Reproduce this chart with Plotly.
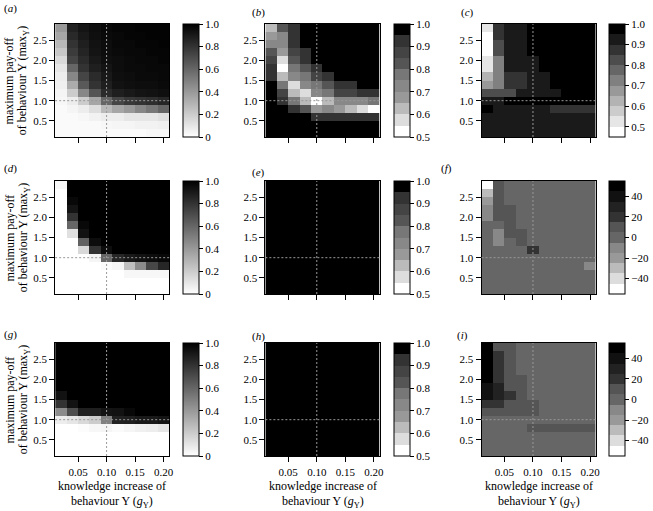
import plotly.graph_objects as go

# ---------------- data ----------------
g_values = [0.02, 0.04, 0.06, 0.08, 0.10, 0.12, 0.14, 0.16, 0.18, 0.20]
max_values = [2.8, 2.6, 2.4, 2.2, 2.0, 1.8, 1.6, 1.4, 1.2, 1.0, 0.8, 0.6, 0.4, 0.2]
x_ticks = [0.05, 0.10, 0.15, 0.20]
x_tick_text = ["0.05", "0.10", "0.15", "0.20"]
y_ticks = [0.5, 1.0, 1.5, 2.0, 2.5]
y_tick_text = ["0.5", "1.0", "1.5", "2.0", "2.5"]
ref_g = 0.10
ref_max = 1.0

# each list = one column (g value), values from max=2.8 (top) to 0.2 (bottom)
a_cols = [
    [0.40, 0.35, 0.28, 0.22, 0.15, 0.10, 0.07, 0.06, 0.04, 0.03, 0.02, 0.02, 0.02, 0.02],
    [0.87, 0.84, 0.80, 0.77, 0.73, 0.60, 0.47, 0.33, 0.20, 0.07, 0.04, 0.02, 0.02, 0.02],
    [0.92, 0.90, 0.88, 0.86, 0.83, 0.80, 0.73, 0.65, 0.47, 0.20, 0.07, 0.03, 0.02, 0.02],
    [0.95, 0.94, 0.93, 0.92, 0.90, 0.88, 0.83, 0.80, 0.67, 0.35, 0.13, 0.05, 0.02, 0.02],
    [0.97, 0.96, 0.95, 0.95, 0.94, 0.92, 0.90, 0.88, 0.83, 0.60, 0.27, 0.07, 0.03, 0.02],
    [0.98, 0.97, 0.97, 0.96, 0.95, 0.95, 0.94, 0.93, 0.88, 0.73, 0.35, 0.07, 0.04, 0.02],
    [0.98, 0.98, 0.97, 0.97, 0.96, 0.96, 0.95, 0.94, 0.90, 0.78, 0.40, 0.10, 0.04, 0.02],
    [0.99, 0.98, 0.98, 0.97, 0.97, 0.96, 0.96, 0.95, 0.92, 0.80, 0.47, 0.10, 0.05, 0.02],
    [0.99, 0.99, 0.98, 0.98, 0.97, 0.97, 0.96, 0.95, 0.93, 0.82, 0.53, 0.10, 0.05, 0.03],
    [0.99, 0.99, 0.99, 0.98, 0.98, 0.97, 0.97, 0.96, 0.94, 0.85, 0.60, 0.12, 0.06, 0.03],
]
b_cols = [
    [0.625, 0.675, 0.725, 0.81, 0.875, 0.925, 0.925, 0.975, 0.975, 0.975, 0.975, 0.975, 0.975, 0.975],
    [0.81, 0.725, 0.70, 0.675, 0.575, 0.525, 0.625, 0.75, 0.875, 0.925, 0.975, 0.975, 0.975, 0.975],
    [0.925, 0.925, 0.925, 0.875, 0.81, 0.75, 0.70, 0.575, 0.625, 0.75, 0.925, 0.975, 0.975, 0.975],
    [0.975, 0.975, 0.975, 0.925, 0.925, 0.83, 0.75, 0.70, 0.575, 0.625, 0.83, 0.975, 0.975, 0.975],
    [0.975, 0.975, 0.975, 0.975, 0.975, 0.925, 0.875, 0.775, 0.70, 0.525, 0.675, 0.925, 0.975, 0.975],
    [0.975, 0.975, 0.975, 0.975, 0.975, 0.975, 0.925, 0.825, 0.775, 0.625, 0.725, 0.925, 0.975, 0.975],
    [0.975, 0.975, 0.975, 0.975, 0.975, 0.975, 0.975, 0.925, 0.85, 0.725, 0.675, 0.925, 0.975, 0.975],
    [0.975, 0.975, 0.975, 0.975, 0.975, 0.975, 0.975, 0.925, 0.85, 0.725, 0.625, 0.925, 0.975, 0.975],
    [0.975, 0.975, 0.975, 0.975, 0.975, 0.975, 0.975, 0.975, 0.925, 0.725, 0.575, 0.925, 0.975, 0.975],
    [0.975, 0.975, 0.975, 0.975, 0.975, 0.975, 0.975, 0.975, 0.925, 0.775, 0.525, 0.925, 0.975, 0.975],
]
c_cols = [
    [0.525, 0.475, 0.475, 0.475, 0.525, 0.525, 0.625, 0.675, 0.825, 0.91, 0.975, 0.93, 0.93, 0.93],
    [0.875, 0.875, 0.80, 0.80, 0.725, 0.725, 0.725, 0.725, 0.84, 0.91, 0.93, 0.93, 0.93, 0.93],
    [0.93, 0.93, 0.93, 0.91, 0.91, 0.91, 0.875, 0.875, 0.84, 0.975, 0.93, 0.93, 0.93, 0.93],
    [0.93, 0.93, 0.93, 0.91, 0.91, 0.91, 0.875, 0.875, 0.91, 0.975, 0.93, 0.93, 0.93, 0.93],
    [0.975, 0.975, 0.975, 0.975, 0.93, 0.93, 0.91, 0.91, 0.91, 0.975, 0.93, 0.93, 0.93, 0.93],
    [0.975, 0.975, 0.975, 0.975, 0.975, 0.975, 0.93, 0.93, 0.91, 0.975, 0.93, 0.93, 0.93, 0.93],
    [0.975, 0.975, 0.975, 0.975, 0.975, 0.975, 0.975, 0.975, 0.91, 0.975, 0.875, 0.93, 0.93, 0.93],
    [0.975, 0.975, 0.975, 0.975, 0.975, 0.975, 0.975, 0.975, 0.975, 0.975, 0.875, 0.93, 0.93, 0.93],
    [0.975, 0.975, 0.975, 0.975, 0.975, 0.975, 0.975, 0.975, 0.975, 0.975, 0.875, 0.93, 0.93, 0.93],
    [0.975, 0.975, 0.975, 0.975, 0.975, 0.975, 0.975, 0.975, 0.975, 0.975, 0.875, 0.93, 0.93, 0.93],
]
d_cols = [
    [0.03, 0, 0, 0, 0, 0, 0, 0, 0, 0, 0, 0, 0, 0],
    [1, 1, 0.97, 0.92, 0.80, 0.60, 0.12, 0, 0, 0, 0, 0, 0, 0],
    [1, 1, 1, 1, 1, 0.97, 0.93, 0.62, 0.15, 0, 0, 0, 0, 0],
    [1, 1, 1, 1, 1, 1, 1, 0.95, 0.80, 0.04, 0, 0, 0, 0],
    [1, 1, 1, 1, 1, 1, 1, 1, 0.95, 0.60, 0.02, 0, 0, 0],
    [1, 1, 1, 1, 1, 1, 1, 1, 1, 0.85, 0.04, 0, 0, 0],
    [1, 1, 1, 1, 1, 1, 1, 1, 1, 0.90, 0.25, 0.03, 0, 0],
    [1, 1, 1, 1, 1, 1, 1, 1, 1, 0.93, 0.45, 0.03, 0, 0],
    [1, 1, 1, 1, 1, 1, 1, 1, 1, 0.95, 0.72, 0.03, 0, 0],
    [1, 1, 1, 1, 1, 1, 1, 1, 1, 0.97, 0.85, 0.03, 0, 0],
]
e_cols = [[0.975] * 14 for _ in range(10)]
f_cols = [
    [-50, -30, -20, -10, -10, 0, 0, 0, 0, 0, 0, 0, 0, 0],
    [10, 10, 10, 10, 10, 0, -10, -10, 0, 0, 0, 0, 0, 0],
    [0, 0, 0, 10, 10, 10, 10, 0, 0, 0, 0, 0, 0, 0],
    [0, 0, 0, 0, 0, 0, 10, 10, 0, 0, 0, 0, 0, 0],
    [0, 0, 0, 0, 0, 0, 0, 0, 20, 0, 0, 0, 0, 0],
    [0, 0, 0, 0, 0, 0, 0, 0, 0, 0, 0, 0, 0, 0],
    [0, 0, 0, 0, 0, 0, 0, 0, 0, 0, 0, 0, 0, 0],
    [0, 0, 0, 0, 0, 0, 0, 0, 0, 0, 0, 0, 0, 0],
    [0, 0, 0, 0, 0, 0, 0, 0, 0, 0, 0, 0, 0, 0],
    [0, 0, 0, 0, 0, 0, 0, 0, 0, 0, -10, 0, 0, 0],
]
g_cols = [
    [1, 1, 1, 1, 1, 1, 0.93, 0.80, 0.45, 0.07, 0, 0, 0, 0],
    [1, 1, 1, 1, 1, 1, 1, 0.93, 0.70, 0.10, 0, 0, 0, 0],
    [1, 1, 1, 1, 1, 1, 1, 1, 0.88, 0.15, 0.01, 0, 0, 0],
    [1, 1, 1, 1, 1, 1, 1, 1, 0.88, 0.20, 0.03, 0, 0, 0],
    [1, 1, 1, 1, 1, 1, 1, 1, 0.92, 0.50, 0.04, 0, 0, 0],
    [1, 1, 1, 1, 1, 1, 1, 1, 0.93, 0.87, 0.02, 0, 0, 0],
    [1, 1, 1, 1, 1, 1, 1, 1, 0.97, 0.88, 0.04, 0, 0, 0],
    [1, 1, 1, 1, 1, 1, 1, 1, 1, 0.90, 0.06, 0, 0, 0],
    [1, 1, 1, 1, 1, 1, 1, 1, 1, 0.90, 0.07, 0, 0, 0],
    [1, 1, 1, 1, 1, 1, 1, 1, 1, 0.92, 0.10, 0, 0, 0],
]
h_cols = [[0.975] * 14 for _ in range(10)]
i_cols = [
    [50, 50, 50, 50, 50, 40, 40, 20, 10, 0, 0, 0, 0, 0],
    [10, 20, 20, 20, 20, 30, 30, 20, 10, 0, 0, 0, 0, 0],
    [10, 10, 10, 10, 10, 10, 20, 10, 10, 0, 0, 0, 0, 0],
    [0, 0, 0, 0, 10, 10, 10, 10, 10, 0, 0, 0, 0, 0],
    [0, 0, 0, 0, 0, 0, 0, 10, 10, 0, 10, 0, 0, 0],
    [0, 0, 0, 0, 0, 0, 0, 0, 0, 0, 10, 0, 0, 0],
    [0, 0, 0, 0, 0, 0, 0, 0, 0, 0, 10, 0, 0, 0],
    [0, 0, 0, 0, 0, 0, 0, 0, 0, 0, 10, 0, 0, 0],
    [0, 0, 0, 0, 0, 0, 0, 0, 0, 0, 10, 0, 0, 0],
    [0, 0, 0, 0, 0, 0, 0, 0, 0, 0, 10, 0, 0, 0],
]
panel_letters = ["a", "b", "c", "d", "e", "f", "g", "h", "i"]

# ---------------- colour scales ----------------
def banded(colors):
    n = len(colors)
    scale = []
    for k, c in enumerate(colors):
        scale.append([k / n, c])
        scale.append([(k + 1) / n, c])
    return scale

grey_cont = [[0, "#ffffff"], [1, "#000000"]]
bands_b = banded(["#ffffff", "#dddddd", "#bbbbbb", "#999999", "#888888",
                  "#777777", "#555555", "#444444", "#333333", "#000000"])
bands_c = banded(["#ffffff", "#e6e6e6", "#cccccc", "#b3b3b3", "#999999", "#808080",
                  "#666666", "#4d4d4d", "#333333", "#1a1a1a", "#000000"])
bands_f = banded(["#ffffff", "#dddddd", "#bbbbbb", "#999999", "#888888", "#666666",
                  "#555555", "#333333", "#222222", "#111111", "#000000"])

spec_p = dict(cs=grey_cont, zmin=0, zmax=1, tv=[0, 0.2, 0.4, 0.6, 0.8, 1.0],
              tt=["0", "0.2", "0.4", "0.6", "0.8", "1.0"])
spec_b = dict(cs=bands_b, zmin=0.5, zmax=1.0, tv=[0.5, 0.6, 0.7, 0.8, 0.9, 1.0],
              tt=["0.5", "0.6", "0.7", "0.8", "0.9", "1.0"])
spec_c = dict(cs=bands_c, zmin=0.45, zmax=1.0, tv=[0.5, 0.6, 0.7, 0.8, 0.9, 1.0],
              tt=["0.5", "0.6", "0.7", "0.8", "0.9", "1.0"])
spec_f = dict(cs=bands_f, zmin=-55, zmax=55, tv=[-40, -20, 0, 20, 40],
              tt=["\u221240", "\u221220", "0", "20", "40"])

panels = [
    (a_cols, spec_p), (b_cols, spec_b), (c_cols, spec_c),
    (d_cols, spec_p), (e_cols, spec_b), (f_cols, spec_f),
    (g_cols, spec_p), (h_cols, spec_b), (i_cols, spec_f),
]

# ---------------- layout geometry (pixels) ----------------
W, H = 653, 511
col_px = [(55.5, 170.5), (267, 382), (484.5, 599.5)]
cbar_px = [184, 396, 613]
row_px = [(24, 137), (181, 294), (343, 456)]
label_px = [(2, 9), (252, 12), (462, 12),
            (2, 168), (252, 172), (442, 168),
            (2, 334), (252, 336), (458, 335)]

FONT = "Liberation Serif, Times New Roman, Times, serif"
fs = 11

fig = go.Figure()
layout = dict(width=W, height=H, margin=dict(l=0, r=0, t=0, b=0), autosize=False,
              paper_bgcolor="white", plot_bgcolor="white", showlegend=False,
              font=dict(family=FONT, size=fs, color="black"))
annotations = []
shapes = []

for idx, (cols, spec) in enumerate(panels):
    r, c = divmod(idx, 3)
    n = idx + 1
    xs = "" if n == 1 else str(n)
    x0, x1 = col_px[c]
    y0, y1 = row_px[r]
    z = [list(row) for row in zip(*cols)]
    fig.add_trace(go.Heatmap(
        x=g_values, y=max_values, z=z,
        colorscale=spec["cs"], zmin=spec["zmin"], zmax=spec["zmax"],
        xaxis="x" + xs, yaxis="y" + xs, hoverinfo="skip",
        colorbar=dict(
            x=cbar_px[c] / W, xanchor="left", xpad=0,
            y=1 - (y0 + y1) / 2 / H, yanchor="middle", ypad=0,
            len=(y1 - y0) / H, lenmode="fraction",
            thickness=16, thicknessmode="pixels",
            outlinewidth=1, outlinecolor="black",
            ticks="outside", ticklen=4, tickcolor="black",
            tickvals=spec["tv"], ticktext=spec["tt"],
            tickfont=dict(family=FONT, size=fs, color="black"),
        ),
    ))
    axcommon = dict(showline=True, mirror=True, linecolor="black", linewidth=1,
                    showgrid=False, zeroline=False, ticks="outside", ticklen=5,
                    tickcolor="black", tickfont=dict(family=FONT, size=fs, color="black"))
    layout["xaxis" + xs] = dict(domain=[x0 / W, x1 / W], range=[0.01, 0.21],
                                anchor="y" + xs, tickvals=x_ticks, ticktext=x_tick_text,
                                showticklabels=(r == 2), ticklabelstandoff=1, **axcommon)
    layout["yaxis" + xs] = dict(domain=[1 - y1 / H, 1 - y0 / H], range=[0.1, 2.9],
                                anchor="x" + xs, tickvals=y_ticks, ticktext=y_tick_text,
                                **axcommon)
    # reference lines
    shapes.append(dict(type="line", xref="x" + xs, yref="y" + xs + " domain",
                       x0=ref_g, x1=ref_g, y0=0, y1=1, layer="above",
                       line=dict(color="#999999", width=1, dash="2px,2px")))
    shapes.append(dict(type="line", xref="x" + xs + " domain", yref="y" + xs,
                       x0=0, x1=1, y0=ref_max, y1=ref_max, layer="above",
                       line=dict(color="#999999", width=1, dash="2px,2px")))
    # panel letter
    lx, ly = label_px[idx]
    annotations.append(dict(text="(<i>%s</i>)" % panel_letters[idx], xref="paper", yref="paper",
                            x=lx / W, y=1 - ly / H, xanchor="left", yanchor="middle",
                            showarrow=False, font=dict(family=FONT, size=fs)))
    # y title in first column
    if c == 0:
        yc = 1 - (y0 + y1) / 2 / H
        annotations.append(dict(text="maximum pay-off", xref="paper", yref="paper",
                                x=10 / W, y=yc, xanchor="center", yanchor="middle",
                                textangle=-90, showarrow=False,
                                font=dict(family=FONT, size=12)))
        annotations.append(dict(text="of behaviour Y (max<sub>Y</sub>)", xref="paper", yref="paper",
                                x=24 / W, y=yc, xanchor="center", yanchor="middle",
                                textangle=-90, showarrow=False,
                                font=dict(family=FONT, size=12)))
    # x title in bottom row
    if r == 2:
        xc = (x0 + x1) / 2 / W
        annotations.append(dict(text="knowledge increase of", xref="paper", yref="paper",
                                x=xc, y=1 - 486 / H, xanchor="center", yanchor="middle",
                                showarrow=False, font=dict(family=FONT, size=12)))
        annotations.append(dict(text="behaviour Y (<i>g</i><sub>Y</sub>)", xref="paper", yref="paper",
                                x=xc, y=1 - 502 / H, xanchor="center", yanchor="middle",
                                showarrow=False, font=dict(family=FONT, size=12)))

layout["annotations"] = annotations
layout["shapes"] = shapes
fig.update_layout(**layout)
fig.write_html("out.html",
               config={"displayModeBar": False},
               post_script="document.body.style.margin='0px';document.body.style.overflow='hidden';")
